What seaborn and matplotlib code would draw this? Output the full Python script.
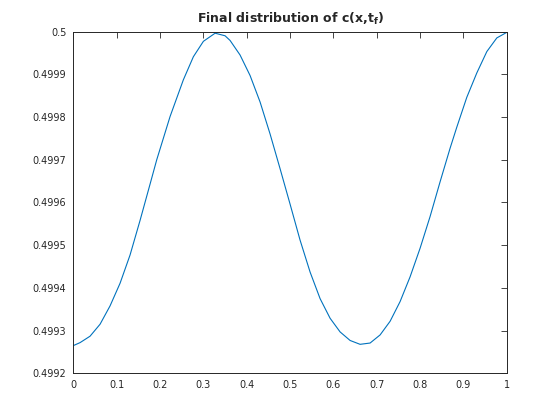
import matplotlib
matplotlib.use("Agg")
import matplotlib.pyplot as plt
import seaborn as sns
import pandas as pd
from matplotlib.ticker import FuncFormatter

# ===================== DATA =====================
x_vals = [0.0, 0.0155, 0.0385, 0.0616, 0.0847, 0.1078, 0.1308, 0.1539,
          0.177, 0.1924, 0.2231, 0.2538, 0.2769, 0.300, 0.327, 0.35,
          0.3616, 0.3846, 0.4077, 0.4308, 0.4539, 0.4769, 0.5, 0.523,
          0.5462, 0.5692, 0.5923, 0.6154, 0.6385, 0.6615, 0.6846, 0.7077,
          0.7308, 0.7538, 0.7769, 0.8, 0.823, 0.846, 0.8692, 0.8846,
          0.9077, 0.9308, 0.9539, 0.977, 1.0]
c_vals = [0.499265, 0.499272, 0.499287, 0.499315, 0.499358, 0.499411, 0.499477,
          0.499558, 0.499643, 0.499700, 0.499801, 0.499887, 0.499941, 0.499977,
          0.499996, 0.499990, 0.499979, 0.499945, 0.499897, 0.499835, 0.499760,
          0.499679, 0.499596, 0.499512, 0.499437, 0.499375, 0.499329, 0.499297,
          0.499277, 0.499268, 0.499271, 0.499290, 0.499322, 0.499368, 0.499426,
          0.499493, 0.499567, 0.499648, 0.499727, 0.499776, 0.499846, 0.499903,
          0.499953, 0.499985, 0.499998]

x_ticks = [0, 0.1, 0.2, 0.3, 0.4, 0.5, 0.6, 0.7, 0.8, 0.9, 1]
y_ticks = [0.4992, 0.4993, 0.4994, 0.4995, 0.4996, 0.4997, 0.4998, 0.4999, 0.5]

df = pd.DataFrame({"x": x_vals, "c": c_vals})

# ===================== PLOT =====================
sns.set_style("white")
plt.rcParams["font.family"] = ["DejaVu Sans"]
plt.rcParams["mathtext.fontset"] = "dejavusans"

fig = plt.figure(figsize=(5.6, 4.2), dpi=100)
ax = fig.add_axes([0.131, 0.111, 0.774, 0.814])

sns.lineplot(data=df, x="x", y="c", sort=False, color="#0072BD",
             linewidth=0.8, ax=ax)

ax.set_xlim(0, 1)
ax.set_ylim(0.4992, 0.5)
ax.set_xticks(x_ticks)
ax.set_yticks(y_ticks)
fmt = FuncFormatter(lambda v, p: "%g" % round(v, 6))
ax.xaxis.set_major_formatter(fmt)
ax.yaxis.set_major_formatter(fmt)
ax.set_xlabel("")
ax.set_ylabel("")

ax.tick_params(direction="in", length=4, width=0.6, top=True, right=True,
               labelsize=7, colors="#262626", pad=5)
for s in ax.spines.values():
    s.set_visible(True)
    s.set_color("#262626")
    s.set_linewidth(0.7)

ax.set_title(r"Final distribution of c(x,t$_\mathbf{f}$)", fontsize=9,
             fontweight="bold", pad=6)

fig.savefig("out.png", dpi=100, facecolor="white")
